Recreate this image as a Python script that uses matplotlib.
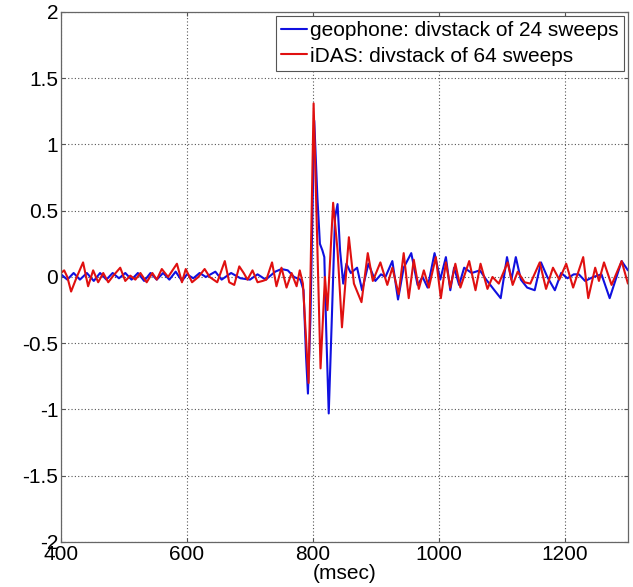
import matplotlib
matplotlib.use("Agg")
import matplotlib.pyplot as plt
import matplotlib.ticker as ticker

# geophone trace, divstack of 24 sweeps (time in msec, amplitude)
geo_t = [400, 410, 420, 430, 441, 452, 462, 472, 482, 492, 502, 512, 522, 532,
         542, 552, 562, 572, 582, 592, 600, 610, 620, 630, 645, 655, 670, 685,
         700, 712, 725, 740, 750, 760, 770, 780, 785, 789, 792, 796, 802, 807,
         811, 815, 818, 821, 825, 830, 835, 839, 843, 848, 853, 860, 870, 878,
         888, 899, 908, 915, 926, 935, 944, 956, 966, 974, 982, 993, 1002, 1011,
         1018, 1024, 1032, 1040, 1052, 1065, 1075, 1088, 1098, 1108, 1115, 1122,
         1130, 1140, 1152, 1162, 1172, 1184, 1194, 1204, 1214, 1222, 1232, 1245,
         1258, 1271, 1290, 1300]
geo_v = [0.02, -0.02, 0.03, -0.02, 0.03, -0.03, 0.03, -0.02, 0.03, -0.01, 0.03, -0.02, 0.03, -0.03,
         0.03, -0.02, 0.03, -0.02, 0.04, -0.03, 0.02, -0.01, 0.03, 0.0, 0.04, -0.02, 0.03, -0.01,
         -0.02, 0.02, -0.02, 0.04, 0.06, 0.05, 0.0, -0.02, -0.1, -0.6, -0.88, -0.3, 1.18, 0.6,
         0.25, 0.2, 0.15, -0.4, -1.03, -0.3, 0.45, 0.55, 0.2, -0.05, 0.10, 0.03, 0.07, -0.10,
         0.10, -0.03, 0.02, 0.0, 0.12, -0.17, 0.07, 0.18, -0.06, 0.0, -0.08, 0.18, -0.02, 0.15,
         -0.10, 0.07, -0.06, 0.07, 0.03, 0.05, -0.02, -0.10, -0.16, 0.15, -0.02, 0.15,
         -0.02, -0.08, -0.10, 0.11, 0.0, -0.10, 0.03, -0.01, 0.02, 0.02, -0.03, 0.0,
         0.02, -0.16, 0.12, 0.05]

# iDAS trace, divstack of 64 sweeps
das_t = [400, 405, 410, 416, 425, 435, 443, 451, 459, 467, 475, 483, 494, 502,
         510, 518, 526, 536, 545, 552, 560, 570, 584, 592, 598, 608, 618, 628,
         636, 648, 660, 667, 675, 683, 690, 696, 704, 712, 720, 726, 735, 742,
         750, 758, 766, 774, 779, 784, 787, 793, 801, 806, 812, 819, 823, 832,
         839, 846, 857, 865, 877, 887, 895, 907, 918, 926, 936, 944, 952, 960,
         968, 976, 984, 995, 1003, 1011, 1018, 1026, 1034, 1048, 1058, 1066, 1077,
         1085, 1095, 1109, 1117, 1125, 1136, 1145, 1160, 1170, 1181, 1191, 1202,
         1213, 1229, 1237, 1248, 1254, 1262, 1274, 1290, 1300]
das_v = [0.03, 0.05, 0.0, -0.11, 0.0, 0.11, -0.07, 0.05, -0.04, 0.03, -0.04, 0.01, 0.07, -0.03,
         0.01, -0.02, 0.03, -0.04, 0.03, -0.02, 0.06, 0.0, 0.10, -0.04, 0.06, -0.04, 0.0, 0.06,
         0.0, -0.04, 0.12, -0.04, -0.06, 0.08, 0.03, -0.02, 0.05, -0.04, -0.03, -0.02, 0.11, -0.07,
         0.07, -0.08, 0.03, -0.07, 0.05, -0.05, -0.3, -0.80, 1.31, 0.4, -0.69, 0.0, -0.25, 0.56,
         0.2, -0.38, 0.3, -0.05, -0.19, 0.18, -0.03, 0.11, -0.06, 0.07, -0.13, 0.18, -0.16, 0.13,
         -0.09, 0.05, -0.08, 0.15, -0.16, 0.11, -0.08, 0.10, -0.08, 0.12, -0.10, 0.10, -0.09,
         0.0, -0.05, 0.11, -0.06, 0.04, -0.04, -0.05, 0.11, -0.09, 0.07, -0.02, 0.10,
         -0.08, 0.15, -0.16, 0.07, -0.03, 0.11, -0.06, 0.12, -0.05]

x_ticks = [400, 600, 800, 1000, 1200]
y_ticks = [-2, -1.5, -1, -0.5, 0, 0.5, 1, 1.5, 2]

plt.rcParams['font.family'] = ['Liberation Sans', 'DejaVu Sans']
plt.rcParams['axes.unicode_minus'] = False

fig = plt.figure(figsize=(6.33, 5.87), dpi=100)
ax = fig.add_axes([0.0964, 0.0767, 0.8956, 0.9029])

line_kw = dict(lw=1.5, solid_joinstyle='round', solid_capstyle='round')
ax.plot(geo_t, geo_v, color='#1010e0', label='geophone: divstack of 24 sweeps', **line_kw)
ax.plot(das_t, das_v, color='#e01010', label='iDAS: divstack of 64 sweeps', **line_kw)

ax.set_xlim(400, 1300)
ax.set_ylim(-2, 2)
ax.set_xticks(x_ticks)
ax.set_yticks(y_ticks)
ax.yaxis.set_major_formatter(ticker.FuncFormatter(lambda v, p: '%g' % v))
ax.tick_params(direction='in', length=3, width=0.8, top=True, right=True,
               labelsize=15, colors='#555555', labelcolor='black', pad=2)
for s in ax.spines.values():
    s.set_color('#666666')
    s.set_linewidth(0.9)

ax.grid(True, color='#555555', linestyle=(0, (1, 2)), linewidth=0.8)
ax.set_xlabel('(msec)', fontsize=15, labelpad=0)

leg = ax.legend(loc='upper right', fontsize=15, fancybox=False, framealpha=1,
                edgecolor='#555555', borderaxespad=0.2, borderpad=0.25,
                handlelength=1.25, handletextpad=0.15, labelspacing=0.3)
leg.get_frame().set_linewidth(0.8)

fig.savefig('out.png', dpi=100)
